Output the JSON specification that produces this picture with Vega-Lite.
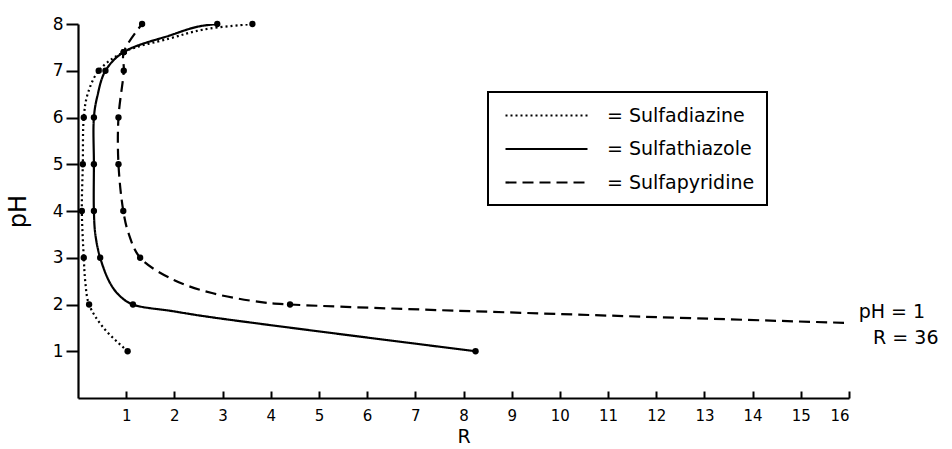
{
  "$schema": "https://vega.github.io/schema/vega-lite/v6.json",
  "width": 771,
  "height": 374,
  "autosize": {"type": "none"},
  "padding": {"left": 78, "top": 24, "right": 103, "bottom": 51},
  "background": "white",
  "config": {
    "view": {"stroke": null},
    "font": "DejaVu Sans",
    "axis": {
      "domainColor": "black",
      "domainWidth": 2.2,
      "tickColor": "black",
      "tickWidth": 2,
      "labelColor": "black",
      "labelFontSize": 16,
      "titleColor": "black",
      "titleFontWeight": "normal",
      "titleFontSize": 22,
      "grid": false
    }
  },
  "datasets": {
    "measured": [
      {"drug": "Sulfadiazine", "pH": 8, "R": 3.62},
      {"drug": "Sulfadiazine", "pH": 7.4, "R": 0.95},
      {"drug": "Sulfadiazine", "pH": 7, "R": 0.43},
      {"drug": "Sulfadiazine", "pH": 6, "R": 0.12},
      {"drug": "Sulfadiazine", "pH": 5, "R": 0.1},
      {"drug": "Sulfadiazine", "pH": 4, "R": 0.08},
      {"drug": "Sulfadiazine", "pH": 3, "R": 0.12},
      {"drug": "Sulfadiazine", "pH": 2, "R": 0.23},
      {"drug": "Sulfadiazine", "pH": 1, "R": 1.03},
      {"drug": "Sulfathiazole", "pH": 8, "R": 2.89},
      {"drug": "Sulfathiazole", "pH": 7.4, "R": 0.95},
      {"drug": "Sulfathiazole", "pH": 7, "R": 0.57},
      {"drug": "Sulfathiazole", "pH": 6, "R": 0.33},
      {"drug": "Sulfathiazole", "pH": 5, "R": 0.33},
      {"drug": "Sulfathiazole", "pH": 4, "R": 0.33},
      {"drug": "Sulfathiazole", "pH": 3, "R": 0.46},
      {"drug": "Sulfathiazole", "pH": 2, "R": 1.14},
      {"drug": "Sulfathiazole", "pH": 1, "R": 8.25},
      {"drug": "Sulfapyridine", "pH": 8, "R": 1.33},
      {"drug": "Sulfapyridine", "pH": 7.4, "R": 0.95},
      {"drug": "Sulfapyridine", "pH": 7, "R": 0.95},
      {"drug": "Sulfapyridine", "pH": 6, "R": 0.84},
      {"drug": "Sulfapyridine", "pH": 5, "R": 0.84},
      {"drug": "Sulfapyridine", "pH": 4, "R": 0.94},
      {"drug": "Sulfapyridine", "pH": 3, "R": 1.29},
      {"drug": "Sulfapyridine", "pH": 2, "R": 4.4},
      {"drug": "Sulfapyridine", "pH": 1, "R": 36}
    ],
    "traced": [
      {"drug": "Sulfadiazine", "pH": 1, "R": 1.03},
      {"drug": "Sulfadiazine", "pH": 1.5, "R": 0.53},
      {"drug": "Sulfadiazine", "pH": 2, "R": 0.23},
      {"drug": "Sulfadiazine", "pH": 2.5, "R": 0.15},
      {"drug": "Sulfadiazine", "pH": 3, "R": 0.12},
      {"drug": "Sulfadiazine", "pH": 4, "R": 0.08},
      {"drug": "Sulfadiazine", "pH": 5, "R": 0.1},
      {"drug": "Sulfadiazine", "pH": 6, "R": 0.12},
      {"drug": "Sulfadiazine", "pH": 6.5, "R": 0.2},
      {"drug": "Sulfadiazine", "pH": 7, "R": 0.43},
      {"drug": "Sulfadiazine", "pH": 7.4, "R": 0.95},
      {"drug": "Sulfadiazine", "pH": 7.69, "R": 1.9},
      {"drug": "Sulfadiazine", "pH": 7.88, "R": 2.6},
      {"drug": "Sulfadiazine", "pH": 8, "R": 3.62},
      {"drug": "Sulfathiazole", "pH": 1, "R": 8.25},
      {"drug": "Sulfathiazole", "pH": 1.73, "R": 2.75},
      {"drug": "Sulfathiazole", "pH": 1.86, "R": 1.95},
      {"drug": "Sulfathiazole", "pH": 2, "R": 1.14},
      {"drug": "Sulfathiazole", "pH": 2.17, "R": 0.88},
      {"drug": "Sulfathiazole", "pH": 2.45, "R": 0.67},
      {"drug": "Sulfathiazole", "pH": 3, "R": 0.46},
      {"drug": "Sulfathiazole", "pH": 3.5, "R": 0.36},
      {"drug": "Sulfathiazole", "pH": 4, "R": 0.33},
      {"drug": "Sulfathiazole", "pH": 5, "R": 0.33},
      {"drug": "Sulfathiazole", "pH": 6, "R": 0.33},
      {"drug": "Sulfathiazole", "pH": 6.45, "R": 0.4},
      {"drug": "Sulfathiazole", "pH": 7, "R": 0.57},
      {"drug": "Sulfathiazole", "pH": 7.4, "R": 0.95},
      {"drug": "Sulfathiazole", "pH": 7.76, "R": 1.92},
      {"drug": "Sulfathiazole", "pH": 7.94, "R": 2.47},
      {"drug": "Sulfathiazole", "pH": 8, "R": 2.89},
      {"drug": "Sulfapyridine", "pH": 1, "R": 36},
      {"drug": "Sulfapyridine", "pH": 2, "R": 4.4},
      {"drug": "Sulfapyridine", "pH": 2.05, "R": 3.8},
      {"drug": "Sulfapyridine", "pH": 2.24, "R": 2.8},
      {"drug": "Sulfapyridine", "pH": 2.52, "R": 2.0},
      {"drug": "Sulfapyridine", "pH": 3, "R": 1.29},
      {"drug": "Sulfapyridine", "pH": 3.52, "R": 1.05},
      {"drug": "Sulfapyridine", "pH": 4, "R": 0.94},
      {"drug": "Sulfapyridine", "pH": 5, "R": 0.84},
      {"drug": "Sulfapyridine", "pH": 6, "R": 0.84},
      {"drug": "Sulfapyridine", "pH": 7, "R": 0.95},
      {"drug": "Sulfapyridine", "pH": 7.4, "R": 0.95},
      {"drug": "Sulfapyridine", "pH": 8, "R": 1.33}
    ],
    "notes": [
      {"R": 16.2, "pH": 1.84, "text": "pH = 1"},
      {"R": 16.5, "pH": 1.28, "text": "R = 36"}
    ]
  },
  "layer": [
    {
      "data": {"name": "traced"},
      "mark": {"type": "line", "color": "black", "strokeWidth": 2.2, "interpolate": "catmull-rom", "clip": true},
      "encoding": {
        "x": {
          "field": "R", "type": "quantitative",
          "scale": {"domain": [0, 16], "nice": false, "zero": true},
          "axis": {"values": [1,2,3,4,5,6,7,8,9,10,11,12,13,14,15,16], "tickSize": -7, "labelPadding": 17, "labelFontSize": 15, "title": "R", "titleFontSize": 19, "titlePadding": 4}
        },
        "y": {
          "field": "pH", "type": "quantitative",
          "scale": {"domain": [0, 8], "nice": false},
          "axis": {"values": [1,2,3,4,5,6,7,8], "tickSize": 12, "labelPadding": 3, "labelFontSize": 17, "title": "pH", "titleFontSize": 24, "titlePadding": 22}
        },
        "order": {"field": "pH", "type": "quantitative"},
        "strokeDash": {
          "field": "drug", "type": "nominal",
          "scale": {"domain": ["Sulfadiazine", "Sulfathiazole", "Sulfapyridine"], "range": [[2, 3], [1, 0], [11, 6]]},
          "legend": {
            "title": null,
            "orient": "none",
            "legendX": 410,
            "legendY": 68,
            "strokeColor": "black",
            "padding": 12,
            "symbolType": "M-0.6,0H7.6",
            "symbolSize": 400,
            "symbolStrokeWidth": 2.2,
            "symbolStrokeColor": "black",
            "symbolFillColor": "transparent",
            "labelFontSize": 19,
            "labelColor": "black",
            "labelOffset": 84,
            "rowPadding": 11.5,
            "labelExpr": "'= ' + datum.label + '\u00a0\u00a0\u00a0\u00a0\u00a0\u00a0'",
            "encode": {"legend": {"update": {"strokeWidth": {"value": 2}}}}
          }
        }
      }
    },
    {
      "data": {"name": "measured"},
      "transform": [{"filter": "datum.R <= 16"}],
      "mark": {"type": "point", "filled": true, "color": "black", "size": 40, "opacity": 1},
      "encoding": {
        "x": {"field": "R", "type": "quantitative"},
        "y": {"field": "pH", "type": "quantitative"}
      }
    },
    {
      "data": {"name": "notes"},
      "mark": {"type": "text", "align": "left", "baseline": "middle", "fontSize": 19, "color": "black", "clip": false},
      "encoding": {
        "x": {"field": "R", "type": "quantitative"},
        "y": {"field": "pH", "type": "quantitative"},
        "text": {"field": "text"}
      }
    }
  ]
}
